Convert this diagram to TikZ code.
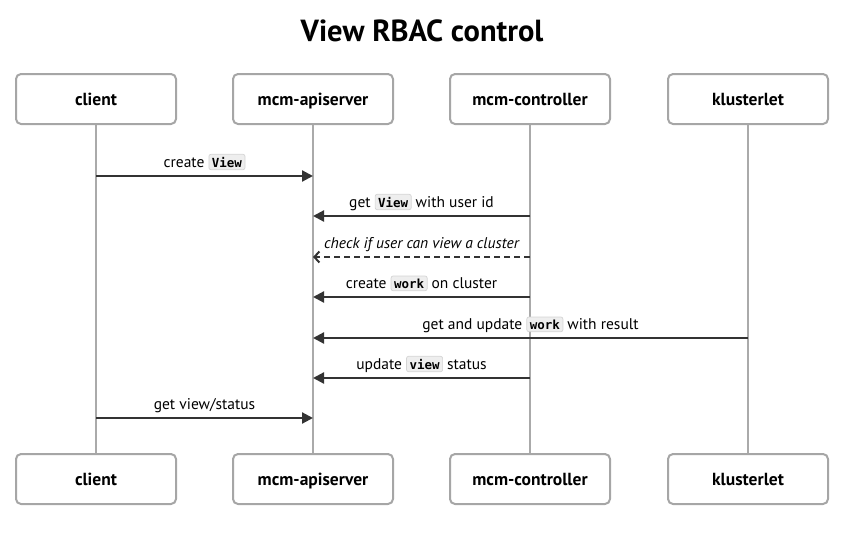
\documentclass[tikz,border=0pt]{standalone}
\usepackage{fontspec}
\setmainfont{PT Sans}
\newfontfamily\codefont{DejaVu Sans Mono}
\usetikzlibrary{arrows.meta}
\definecolor{boxgray}{HTML}{A6A6A6}
\definecolor{linegray}{HTML}{AAAAAA}
\definecolor{msgcol}{HTML}{333333}
\definecolor{codebg}{HTML}{EEEEEE}
\definecolor{codeborder}{HTML}{D4D4D4}
\newcommand{\cd}[1]{\tikz[baseline=(c.base)]\node[draw=codeborder,fill=codebg,rounded corners=2pt,inner xsep=3pt,inner ysep=2.5pt,line width=0.7pt](c){\codefont\bfseries\fontsize{12.5}{14}\selectfont #1};}
\tikzset{
  actor/.style={draw=boxgray,line width=2pt,rounded corners=5pt,fill=white,minimum width=160pt,minimum height=50pt,text height=13pt,text depth=1pt,font=\bfseries\fontsize{17.5}{21}\selectfont},
  life/.style={draw=linegray,line width=2pt},
  msg/.style={draw=msgcol,line width=2.2pt,-{Triangle[length=11pt,width=11pt]}},
  reply/.style={draw=msgcol,line width=2.2pt,dash pattern=on 6pt off 4pt,-{Straight Barb[length=5pt,width=11pt,line width=2pt]}},
  lbl/.style={font=\fontsize{15.5}{18}\selectfont,inner sep=1pt,anchor=base,text=black},
}
\begin{document}
\begin{tikzpicture}[x=1pt,y=-1pt]
\useasboundingbox (0,0) rectangle (864,533);
\node[font=\bfseries\fontsize{30.5}{36}\selectfont] (title) at (422,31) {View RBAC control};
% lifelines
\foreach \n/\x in {c/96,a/313,m/530,k/748}{
  \coordinate (\n top) at (\x,124);
  \coordinate (\n bot) at (\x,454);
  \draw[life] (\n top) -- (\n bot);
}
\node[actor] (c1) at (96,99) {client};
\node[actor] (a1) at (313,99) {mcm-apiserver};
\node[actor] (m1) at (530,99) {mcm-controller};
\node[actor] (k1) at (748,99) {klusterlet};
\node[actor] (c2) at (96,479) {client};
\node[actor] (a2) at (313,479) {mcm-apiserver};
\node[actor] (m2) at (530,479) {mcm-controller};
\node[actor] (k2) at (748,479) {klusterlet};
% message endpoints
\foreach \n/\x in {c/96,a/313,m/530,k/748}{
  \foreach \i/\y in {1/176,2/216,3/257,4/297,5/338,6/378,7/418}{
    \coordinate (p\n\i) at (\x,\y);
  }
}
\draw[msg] (pc1) -- (pa1);
\node[lbl] (l1) at (204.5,167) {create \cd{View}};
\draw[msg] (pm2) -- (pa2);
\node[lbl] (l2) at (421.5,207) {get \cd{View} with user id};
\draw[reply] (pm3) -- (pa3);
\node[lbl,font=\itshape\fontsize{15.5}{18}\selectfont] (l3) at (421.5,248) {check if user can view a cluster};
\draw[msg] (pm4) -- (pa4);
\node[lbl] (l4) at (421.5,288) {create \cd{work} on cluster};
\draw[msg] (pk5) -- (pa5);
\node[lbl] (l5) at (530.5,329) {get and update \cd{work} with result};
\draw[msg] (pm6) -- (pa6);
\node[lbl] (l6) at (421.5,369) {update \cd{view} status};
\draw[msg] (pc7) -- (pa7);
\node[lbl] (l7) at (204.5,409) {get view/status};
\end{tikzpicture}
\end{document}
